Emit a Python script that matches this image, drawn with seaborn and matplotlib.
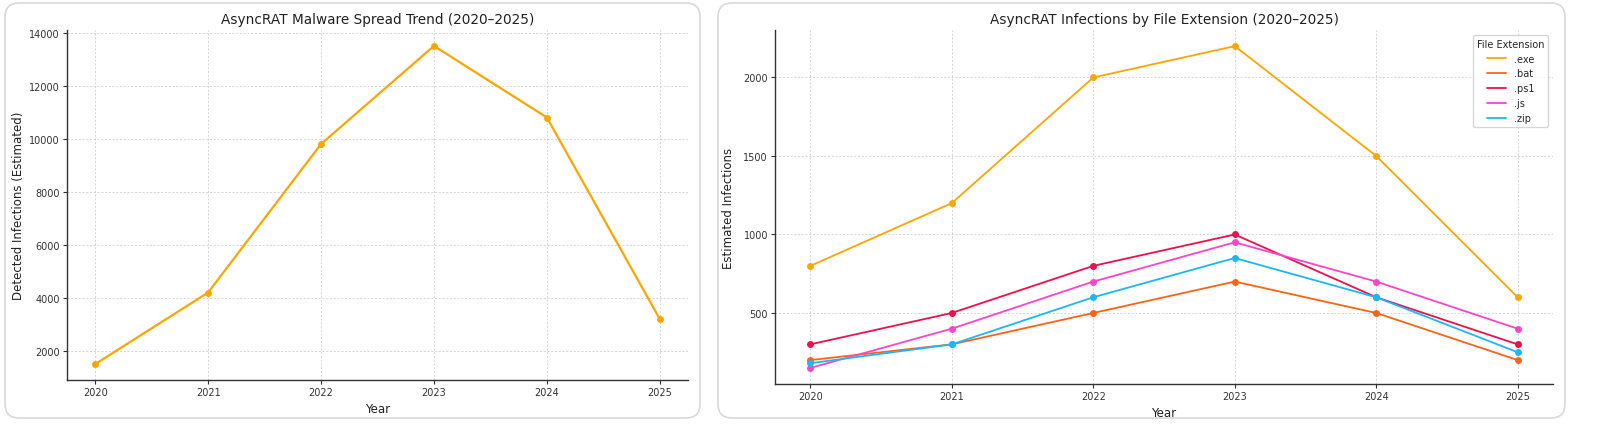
import matplotlib
matplotlib.use("Agg")
import matplotlib.pyplot as plt
import seaborn as sns
import pandas as pd
from matplotlib.patches import FancyBboxPatch

years = [2020, 2021, 2022, 2023, 2024, 2025]
total_infections = [1500, 4200, 9800, 13500, 10800, 3200]

extensions = [".exe", ".bat", ".ps1", ".js", ".zip"]
exe_vals = [800, 1200, 2000, 2200, 1500, 600]
bat_vals = [200, 300, 500, 700, 500, 200]
ps1_vals = [300, 500, 800, 1000, 600, 300]
js_vals = [150, 400, 700, 950, 700, 400]
zip_vals = [180, 300, 600, 850, 600, 250]
ext_colors = ["#FFA500", "#FF6414", "#F0104A", "#FF44CC", "#1AB8F8"]

sns.set_theme(style="whitegrid")
plt.rcParams["font.family"] = ["DejaVu Sans"]

fig = plt.figure(figsize=(16, 4.35), dpi=100)

# background layer in pixel units for the two rounded "cards"
bg = fig.add_axes([0, 0, 1, 1], zorder=-5)
bg.set_xlim(0, 1600)
bg.set_ylim(435, 0)
bg.axis("off")
for x0, x1 in [(5, 700), (718, 1565)]:
    bg.add_patch(FancyBboxPatch((x0, 4), x1 - x0, 415,
                                boxstyle="round,pad=0,rounding_size=14",
                                facecolor="white", edgecolor="#d9d9d9", linewidth=1.2))

ax1 = fig.add_axes([67 / 1600, 1 - 381 / 435, 621 / 1600, 350 / 435])
ax2 = fig.add_axes([775 / 1600, 1 - 385 / 435, 778 / 1600, 354 / 435])

df1 = pd.DataFrame({"Year": years, "Infections": total_infections})
sns.lineplot(data=df1, x="Year", y="Infections", marker="o", color="#FFA500",
             linewidth=1.6, markersize=5, markeredgewidth=0, ax=ax1)
ax1.set_title("AsyncRAT Malware Spread Trend (2020\u20132025)", fontsize=9.8, color="#222222", pad=5)
ax1.set_xlabel("Year", fontsize=8.5, color="#222222", labelpad=4)
ax1.set_ylabel("Detected Infections (Estimated)", fontsize=8.5, color="#222222", labelpad=3)

rows = []
for ext, vals in zip(extensions, [exe_vals, bat_vals, ps1_vals, js_vals, zip_vals]):
    for y, v in zip(years, vals):
        rows.append({"Year": y, "Infections": v, "File Extension": ext})
df2 = pd.DataFrame(rows)
sns.lineplot(data=df2, x="Year", y="Infections", hue="File Extension", marker="o",
             palette=ext_colors, linewidth=1.3, markersize=5, markeredgewidth=0, ax=ax2)
ax2.set_title("AsyncRAT Infections by File Extension (2020\u20132025)", fontsize=9.8, color="#222222", pad=5)
ax2.set_xlabel("Year", fontsize=8.5, color="#222222", labelpad=4)
ax2.set_ylabel("Estimated Infections", fontsize=8.5, color="#222222", labelpad=6)
ax2.set_yticks([500, 1000, 1500, 2000])
leg = ax2.legend(title="File Extension", loc="upper right", fontsize=7, title_fontsize=7,
                 frameon=True, borderaxespad=0.5)
for line in leg.get_lines():
    line.set_marker("")

for ax in (ax1, ax2):
    ax.set_facecolor("none")
    ax.set_xticks(years)
    ax.grid(True, linestyle=(0, (2.5, 2)), color="#d0d0d0", linewidth=0.6)
    for s in ["top", "right"]:
        ax.spines[s].set_visible(False)
    for s in ["left", "bottom"]:
        ax.spines[s].set_color("#333333")
        ax.spines[s].set_linewidth(1.0)
    ax.tick_params(axis="both", labelsize=7, colors="#333333", length=3, width=0.8,
                   direction="out", left=True, bottom=True, pad=2)

fig.savefig("out.png", dpi=100, facecolor="white")
